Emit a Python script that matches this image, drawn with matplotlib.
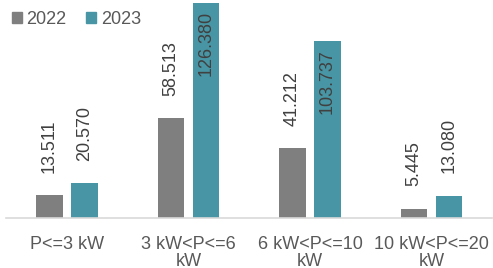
import matplotlib
matplotlib.use('Agg')
import matplotlib.pyplot as plt
from matplotlib.patches import Patch
import numpy as np

plt.rcParams['font.family'] = ['Liberation Sans', 'DejaVu Sans']

categories = ['P<=3 kW', '3 kW<P<=6\nkW', '6 kW<P<=10\nkW', '10 kW<P<=20\nkW']
series_names = ['2022', '2023']
values_2022 = [13.511, 58.513, 41.212, 5.445]
values_2023 = [20.570, 126.380, 103.737, 13.080]

GREY = '#7f7f7f'
TEAL = '#4896a5'
TEXT = '#595959'
LABEL = '#404040'
AXIS = '#d9d9d9'

fig = plt.figure(figsize=(4.93, 2.68), dpi=100)
ax = fig.add_axes([6.25 / 493, 50 / 268, 486 / 493, 218 / 268])
ymax = 127.9
ax.set_xlim(-0.5, len(categories) - 0.5)
ax.set_ylim(0, ymax)

x = np.arange(len(categories))
w = 0.222
off = 0.144
ax.bar(x - off, values_2022, w, color=GREY)
ax.bar(x + off, values_2023, w, color=TEAL)


def fmt(v):
    return f'{v:.3f}'


def label(xpos, v):
    # outside end when there is room, otherwise inside end
    if v > 90:
        ax.annotate(fmt(v), (xpos, v), xytext=(0, -6), textcoords='offset points',
                    rotation=90, ha='center', va='top', fontsize=13, color=LABEL)
    else:
        ax.annotate(fmt(v), (xpos, v), xytext=(0, 16), textcoords='offset points',
                    rotation=90, ha='center', va='bottom', fontsize=13, color=LABEL)


for i in range(len(categories)):
    label(x[i] - off, values_2022[i])
    label(x[i] + off, values_2023[i])

for s in ['top', 'right', 'left']:
    ax.spines[s].set_visible(False)
ax.spines['bottom'].set_color(AXIS)
ax.spines['bottom'].set_linewidth(1.2)
ax.set_yticks([])
ax.set_xticks(x)
ax.set_xticklabels(categories, fontsize=13, color=TEXT, linespacing=1.0)
ax.tick_params(axis='x', length=0, pad=13)

handles = [Patch(color=GREY), Patch(color=TEAL)]
fig.legend(handles, series_names, loc='upper left', bbox_to_anchor=(12 / 493, 1 - 11 / 268),
           ncol=2, frameon=False, fontsize=13, handlelength=0.55, handleheight=0.55,
           handletextpad=0.25, columnspacing=1.1, borderpad=0, borderaxespad=0,
           labelcolor=TEXT)

fig.savefig('out.png', dpi=100)
